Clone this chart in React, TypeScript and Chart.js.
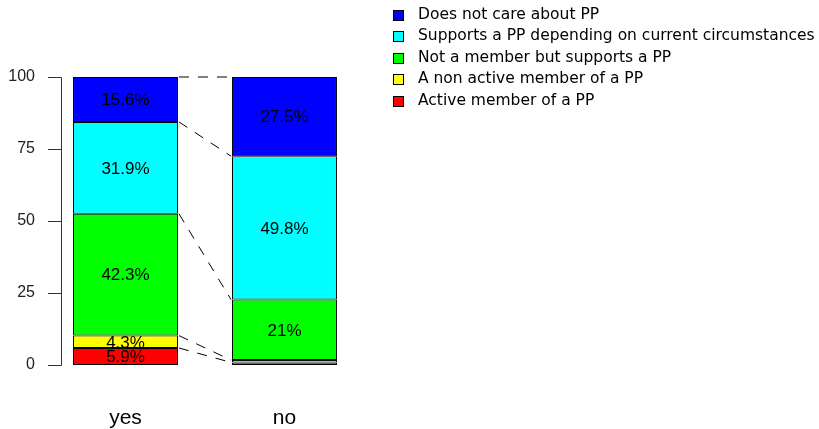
import React, { useEffect, useRef } from "react";
import { Chart, registerables } from "chart.js";

Chart.register(...registerables);

const categories = ["yes", "no"];
const seriesNames = [
  "Active member of a PP",
  "A non active member of a PP",
  "Not a member but supports a PP",
  "Supports a PP depending on current circumstances",
  "Does not care about PP",
];
const activeMember = [5.9, 0.9];
const nonActiveMember = [4.3, 0.8];
const notMemberSupports = [42.3, 21];
const supportsDepending = [31.9, 49.8];
const doesNotCare = [15.6, 27.5];
const seriesColors = ["#FF0000", "#FFFF00", "#00FF00", "#00FFFF", "#0000FF"];
const yTicks = [0, 25, 50, 75, 100];

const seriesValues = [activeMember, nonActiveMember, notMemberSupports, supportsDepending, doesNotCare];

const overlayPlugin = {
  id: "overlay",
  afterDatasetsDraw(chart: any) {
    const ctx = chart.ctx;
    const yScale = chart.scales.y;
    ctx.save();
    // y axis line and ticks (R style, offset from bars)
    const axX = 61;
    ctx.strokeStyle = "#333333";
    ctx.lineWidth = 1;
    ctx.beginPath();
    ctx.moveTo(axX + 0.5, Math.round(yScale.getPixelForValue(yTicks[0])) + 0.5);
    ctx.lineTo(axX + 0.5, Math.round(yScale.getPixelForValue(yTicks[yTicks.length - 1])) + 0.5);
    yTicks.forEach((t) => {
      const py = Math.round(yScale.getPixelForValue(t)) + 0.5;
      ctx.moveTo(axX + 0.5, py);
      ctx.lineTo(axX - 13, py);
    });
    ctx.stroke();

    // dashed connecting lines
    ctx.strokeStyle = "#000000";
    ctx.setLineDash([10, 9]);
    ctx.beginPath();
    seriesValues.forEach((_, i) => {
      const meta = chart.getDatasetMeta(i);
      const a = meta.data[0];
      const b = meta.data[1];
      if (!a || !b) return;
      ctx.moveTo(a.x + a.width / 2 + 1, a.y);
      ctx.lineTo(b.x - b.width / 2 - 1, b.y);
    });
    ctx.stroke();
    ctx.setLineDash([]);

    // percentage labels
    ctx.fillStyle = "#000000";
    ctx.font = "17px 'Liberation Sans', Arial, sans-serif";
    ctx.textAlign = "center";
    ctx.textBaseline = "middle";
    seriesValues.forEach((vals, i) => {
      const meta = chart.getDatasetMeta(i);
      vals.forEach((v, j) => {
        if (v < 2) return;
        const el = meta.data[j];
        ctx.fillText(v + "%", el.x, (el.y + el.base) / 2 + 1);
      });
    });

    // legend
    ctx.font = "15.5px 'DejaVu Sans', sans-serif";
    ctx.textAlign = "left";
    ctx.textBaseline = "middle";
    const order = [4, 3, 2, 1, 0];
    order.forEach((si, k) => {
      const cy = 14.5 + k * 21.6;
      ctx.fillStyle = seriesColors[si];
      ctx.fillRect(393, Math.round(cy - 5), 10, 10);
      ctx.strokeStyle = "#000000";
      ctx.lineWidth = 1;
      ctx.strokeRect(393.5, Math.round(cy - 5) + 0.5, 10, 10);
      ctx.fillStyle = "#000000";
      ctx.fillText(seriesNames[si], 418, cy);
    });
    ctx.restore();
  },
};

export default function App() {
  const ref = useRef<HTMLCanvasElement | null>(null);
  useEffect(() => {
    if (!ref.current) return;
    const chart = new Chart(ref.current, {
      type: "bar",
      data: {
        labels: categories,
        datasets: seriesValues.map((vals, i) => ({
          label: seriesNames[i],
          data: vals,
          backgroundColor: seriesColors[i],
          borderColor: "#000000",
          borderWidth: 1,
          borderSkipped: false,
          barPercentage: 0.66,
          categoryPercentage: 1,
        })),
      },
      options: {
        responsive: false,
        animation: false,
        layout: { padding: { left: 0, right: 455, top: 77, bottom: 0 } },
        plugins: { legend: { display: false }, tooltip: { enabled: false } },
        scales: {
          x: {
            stacked: true,
            grid: { display: false, drawTicks: false },
            border: { display: false },
            ticks: {
              padding: 41,
              color: "#000000",
              font: { family: "'Liberation Sans', Arial, sans-serif", size: 21 },
            },
            afterFit: (s: any) => {
              s.height = 64;
            },
          },
          y: {
            stacked: true,
            min: 0,
            max: 100,
            grid: { display: false, drawTicks: false },
            border: { display: false },
            ticks: {
              stepSize: 25,
              padding: 11,
              color: "#222222",
              font: { family: "'Liberation Sans', Arial, sans-serif", size: 16 },
            },
            afterFit: (s: any) => {
              s.width = 46;
            },
          },
        },
      },
      plugins: [overlayPlugin],
    });
    return () => chart.destroy();
  }, []);
  return (
    <div style={{ position: "fixed", left: 0, top: 0, width: 819, height: 429, background: "#fff" }}>
      <canvas ref={ref} width={819} height={429} style={{ display: "block" }} />
    </div>
  );
}
